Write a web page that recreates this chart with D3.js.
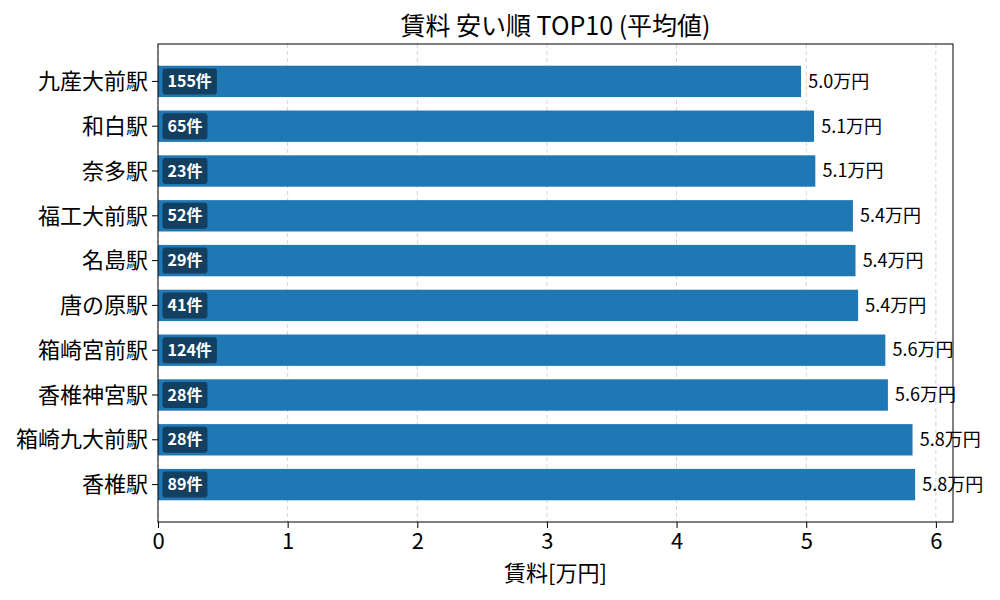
<!DOCTYPE html>
<html lang="ja">
<head>
<meta charset="utf-8">
<title>賃料 安い順 TOP10</title>
<script src="https://cdn.jsdelivr.net/npm/d3@7"></script>
<style>
  body { margin: 0; background: #fff; }
  svg text { font-family: "Noto Sans CJK JP", "Noto Sans", sans-serif; }
</style>
</head>
<body>
<script>
// data
var stations = ["九産大前駅", "和白駅", "奈多駅", "福工大前駅", "名島駅", "唐の原駅", "箱崎宮前駅", "香椎神宮駅", "箱崎九大前駅", "香椎駅"];
var rents = [4.96, 5.06, 5.07, 5.36, 5.38, 5.40, 5.61, 5.63, 5.82, 5.84];
var counts = [155, 65, 23, 52, 29, 41, 124, 28, 28, 89];
var xTicks = [0, 1, 2, 3, 4, 5, 6];

var w = 1000, h = 600;
var margin = { top: 44, right: 47, bottom: 78, left: 158 };
var iw = w - margin.left - margin.right;
var ih = h - margin.top - margin.bottom;

var svg = d3.select("body").append("svg")
  .attr("width", w)
  .attr("height", h);

var g = svg.append("g")
  .attr("transform", "translate(" + margin.left + "," + margin.top + ")");

var xMax = d3.max(rents) * 1.05;
var xScale = d3.scaleLinear().domain([0, xMax]).range([0, iw]);

// matplotlib-style band: step 1, bar height 0.7, 5% margins
var n = stations.length;
var lo = -0.35, hi = n - 1 + 0.35;
var pad = (hi - lo) * 0.05;
var yLin = d3.scaleLinear().domain([lo - pad, hi + pad]).range([0, ih]);
var barH = yLin(0.7) - yLin(0);

// grid
g.selectAll("line.grid")
  .data(xTicks)
  .enter().append("line")
  .attr("class", "grid")
  .attr("x1", function(d) { return xScale(d); })
  .attr("x2", function(d) { return xScale(d); })
  .attr("y1", 0).attr("y2", ih)
  .attr("stroke", "#b0b0b0")
  .attr("stroke-opacity", 0.7)
  .attr("stroke-dasharray", "4,3")
  .attr("stroke-width", 0.8);

// bars
g.selectAll("rect.bar")
  .data(rents)
  .enter().append("rect")
  .attr("class", "bar")
  .attr("x", xScale(0))
  .attr("y", function(d, i) { return yLin(i) - barH / 2; })
  .attr("width", function(d) { return xScale(d) - xScale(0); })
  .attr("height", barH)
  .attr("fill", "#1f77b4");

// value labels
g.selectAll("text.val")
  .data(rents)
  .enter().append("text")
  .attr("class", "val")
  .attr("x", function(d) { return xScale(d + 0.055); })
  .attr("y", function(d, i) { return yLin(i); })
  .attr("dy", "0.35em")
  .attr("font-size", "18px")
  .attr("fill", "#000")
  .text(function(d) { return d.toFixed(1) + "万円"; });

// count badges
var badges = g.selectAll("g.badge")
  .data(counts)
  .enter().append("g")
  .attr("class", "badge")
  .attr("transform", function(d, i) { return "translate(" + xScale(0.035) + "," + yLin(i) + ")"; });

badges.append("text")
  .attr("x", 5)
  .attr("dy", "0.35em")
  .attr("font-size", "16px")
  .attr("font-weight", "bold")
  .attr("fill", "#fff")
  .text(function(d) { return d + "件"; })
  .each(function() {
    var bb = this.getBBox();
    d3.select(this.parentNode).insert("rect", "text")
      .attr("x", 0)
      .attr("y", -13)
      .attr("width", bb.width + 10)
      .attr("height", 26)
      .attr("rx", 3)
      .attr("fill", "#123956")
      .attr("fill-opacity", 0.9);
  });

// axes
var xAxis = d3.axisBottom(xScale).tickValues(xTicks).tickFormat(d3.format("d")).tickSize(6).tickPadding(5);
var gx = g.append("g")
  .attr("transform", "translate(0," + ih + ")")
  .call(xAxis);
gx.select(".domain").remove();
gx.selectAll("text").attr("font-size", "22px").attr("fill", "#000")
  .attr("font-family", "\"Noto Sans CJK JP\", sans-serif");
gx.selectAll("line").attr("stroke", "#000");

var gy = g.append("g");
gy.selectAll("line.ytick")
  .data(stations)
  .enter().append("line")
  .attr("x1", -6).attr("x2", 0)
  .attr("y1", function(d, i) { return yLin(i); })
  .attr("y2", function(d, i) { return yLin(i); })
  .attr("stroke", "#000");
gy.selectAll("text")
  .data(stations)
  .enter().append("text")
  .attr("x", -10)
  .attr("y", function(d, i) { return yLin(i); })
  .attr("dy", "0.35em")
  .attr("text-anchor", "end")
  .attr("font-size", "22px")
  .attr("fill", "#000")
  .text(function(d) { return d; });

// frame
g.append("rect")
  .attr("width", iw).attr("height", ih)
  .attr("fill", "none")
  .attr("stroke", "#000")
  .attr("stroke-width", 1);

// title and label
svg.append("text")
  .attr("x", margin.left + iw / 2)
  .attr("y", 35)
  .attr("text-anchor", "middle")
  .attr("font-size", "25px")
  .text("賃料 安い順 TOP10 (平均値)");

svg.append("text")
  .attr("x", margin.left + iw / 2)
  .attr("y", 581)
  .attr("text-anchor", "middle")
  .attr("font-size", "22px")
  .text("賃料[万円]");
</script>
</body>
</html>
